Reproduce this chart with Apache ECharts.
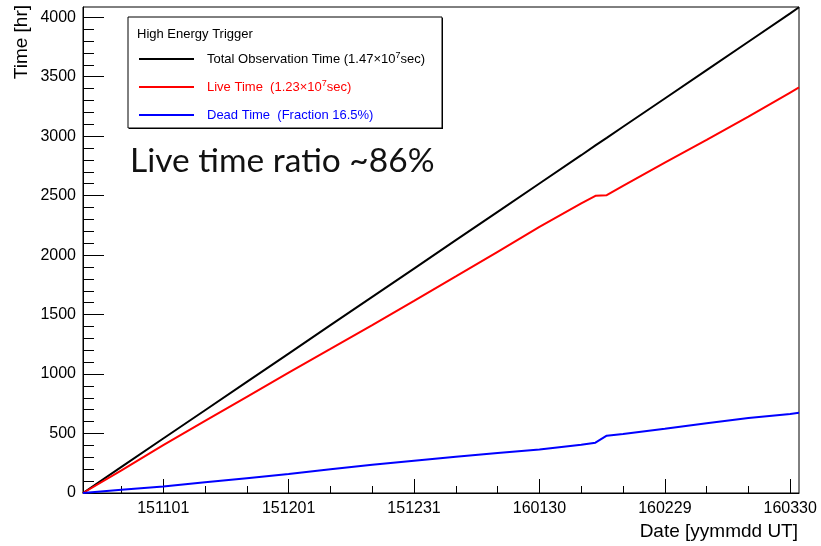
<!DOCTYPE html>
<html>
<head>
<meta charset="utf-8">
<script src="https://cdn.jsdelivr.net/npm/echarts@6/dist/echarts.min.js"></script>
<style>
  html, body { margin: 0; padding: 0; background: #fff; }
  #chart { width: 821px; height: 546px; }
</style>
</head>
<body>
<div id="chart"></div>
<script>
// Cumulative observation time of the high energy trigger.
// Sample times are days since 2015-10-01 00:00 UT; values are hours.
const sampleDay  = [11.8, 21, 31, 41, 51, 61, 71, 81, 91, 101, 111, 121, 131, 134.4, 137.1, 141, 151, 161, 171, 181, 183.1];
const totalHours = [0, 219, 458, 696, 934, 1172, 1411, 1649, 1887, 2126, 2364, 2602, 2840, 2922, 2986, 3079, 3317, 3555, 3794, 4032, 4084];
const liveHours  = [0, 191, 403, 606, 809, 1012, 1211, 1412, 1615, 1821, 2028, 2237, 2435, 2499, 2504, 2582, 2777, 2969, 3164, 3367, 3410];
const deadHours  = [0, 28, 55, 90, 125, 160, 200, 237, 272, 305, 336, 365, 405, 423, 482, 497, 540, 586, 630, 665, 674];

// Axis ranges and tick labels
const xRange = [11.8, 183.1];
const yRange = [0, 4086];
const dateLabels = ['151101', '151201', '151231', '160130', '160229', '160330'];
const dateMinor  = ['151022', '151111', '151121', '151211', '151221', '160110', '160120', '160209', '160219', '160310', '160320'];
const hourMajor = [0, 500, 1000, 1500, 2000, 2500, 3000, 3500, 4000];
const hourMinor = [];
for (let h = 100; h < yRange[1]; h += 100) if (h % 500 !== 0) hourMinor.push(h);

const legendTitle = 'High Energy Trigger';
const legendEntries = [
  { name: 'Total Observation Time', color: '#000000', rich: '{t|Total Observation Time (1.47×10}{s|7}{t|sec)}' },
  { name: 'Live Time', color: '#ff0000', rich: '{t|Live Time  (1.23×10}{s|7}{t|sec)}' },
  { name: 'Dead Time', color: '#0000ff', rich: '{t|Dead Time  (Fraction 16.5%)}' }
];
const note = 'Live time ratio ~86%';

function dayOf(yymmdd) {
  const y = 2000 + Number(yymmdd.slice(0, 2));
  const m = Number(yymmdd.slice(2, 4)) - 1;
  const d = Number(yymmdd.slice(4, 6));
  return (Date.UTC(y, m, d) - Date.UTC(2015, 9, 1)) / 864e5;
}
const majorDays = dateLabels.map(dayOf);
const minorDays = dateMinor.map(dayOf);

const pair = vals => sampleDay.map((d, i) => [d, vals[i]]);

const FONT = '"Liberation Sans", Arial, sans-serif';
const chart = echarts.init(document.getElementById('chart'), null, { renderer: 'canvas' });

const legendBox = { x: 128, y: 17, w: 314, h: 111 };
const legendGraphics = [
  { type: 'rect', shape: { x: legendBox.x + 1, y: legendBox.y + 1, width: legendBox.w, height: legendBox.h },
    style: { fill: '#000' }, z: 10 },
  { type: 'rect', shape: { x: legendBox.x, y: legendBox.y, width: legendBox.w, height: legendBox.h },
    style: { fill: '#fff', stroke: '#000', lineWidth: 1 }, z: 11 },
  { type: 'text', x: 137, y: 34, z: 12,
    style: { text: legendTitle, font: '13px ' + FONT, fill: '#000', verticalAlign: 'middle' } }
];
legendEntries.forEach((e, i) => {
  const yy = 59 + i * 28;
  legendGraphics.push({ type: 'line', z: 12, shape: { x1: 139, y1: yy, x2: 194, y2: yy },
    style: { stroke: e.color, lineWidth: 2 } });
  legendGraphics.push({ type: 'text', x: 207, y: yy, z: 12,
    style: { text: e.rich, verticalAlign: 'middle',
      rich: { t: { font: '13px ' + FONT, fill: e.color },
              s: { font: '9px ' + FONT, fill: e.color, verticalAlign: 'top', padding: [0, 0, 7, 0] } } } });
});

chart.setOption({
  animation: false,
  backgroundColor: '#fff',
  grid: { left: 83, top: 7, width: 716, height: 486, show: true, borderColor: '#000', borderWidth: 1, containLabel: false },
  xAxis: [
    { type: 'value', position: 'bottom', min: xRange[0], max: xRange[1],
      axisLine: { show: true, onZero: false, lineStyle: { color: '#000', width: 1 } },
      axisTick: { show: true, inside: true, length: 14, customValues: majorDays, lineStyle: { color: '#000' } },
      axisLabel: { show: true, customValues: majorDays, margin: 8, fontFamily: FONT, fontSize: 16, color: '#000',
        formatter: v => { const i = majorDays.findIndex(d => Math.abs(d - v) < 1e-6); return i >= 0 ? dateLabels[i] : ''; } },
      splitLine: { show: false } },
    { type: 'value', position: 'bottom', min: xRange[0], max: xRange[1],
      axisLine: { show: false, onZero: false },
      axisTick: { show: true, inside: true, length: 7, customValues: minorDays, lineStyle: { color: '#000' } },
      axisLabel: { show: false }, splitLine: { show: false } }
  ],
  yAxis: [
    { type: 'value', position: 'left', min: yRange[0], max: yRange[1],
      axisLine: { show: true, onZero: false, lineStyle: { color: '#000', width: 1 } },
      axisTick: { show: true, inside: true, length: 21, customValues: hourMajor, lineStyle: { color: '#000' } },
      axisLabel: { show: true, customValues: hourMajor, margin: 7, fontFamily: FONT, fontSize: 16, color: '#000',
        formatter: v => String(Math.round(v)) },
      splitLine: { show: false } },
    { type: 'value', position: 'left', min: yRange[0], max: yRange[1],
      axisLine: { show: false, onZero: false },
      axisTick: { show: true, inside: true, length: 11, customValues: hourMinor, lineStyle: { color: '#000' } },
      axisLabel: { show: false }, splitLine: { show: false } }
  ],
  series: [
    { name: 'Total Observation Time', type: 'line', data: pair(totalHours), showSymbol: false, symbol: 'none',
      lineStyle: { color: '#000000', width: 2 }, z: 3 },
    { name: 'Live Time', type: 'line', data: pair(liveHours), showSymbol: false, symbol: 'none',
      lineStyle: { color: '#ff0000', width: 2 }, z: 4 },
    { name: 'Dead Time', type: 'line', data: pair(deadHours), showSymbol: false, symbol: 'none',
      lineStyle: { color: '#0000ff', width: 2 }, z: 5 }
  ],
  graphic: legendGraphics.concat([
    { type: 'text', x: 22, y: 5, rotation: Math.PI / 2, z: 12,
      style: { text: 'Time [hr]', font: '19px ' + FONT, fill: '#000', align: 'right', verticalAlign: 'middle' } },
    { type: 'text', x: 798, y: 532, z: 12,
      style: { text: 'Date [yymmdd UT]', font: '19px ' + FONT, fill: '#000', align: 'right', verticalAlign: 'middle' } },
    { type: 'text', x: 130, y: 161, z: 12,
      style: { text: note, font: '33.5px Lato, "Open Sans", sans-serif', fill: '#111', align: 'left', verticalAlign: 'middle' } }
  ])
});
</script>
</body>
</html>
